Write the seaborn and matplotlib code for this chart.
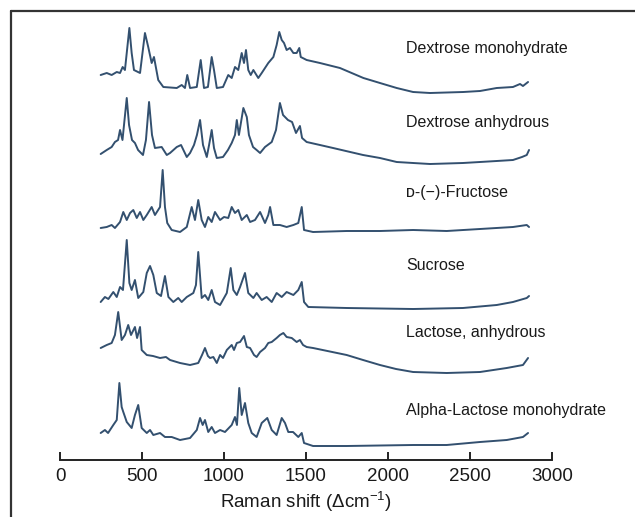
import matplotlib
matplotlib.use("Agg")
import matplotlib.pyplot as plt
import seaborn as sns
import pandas as pd
from matplotlib.lines import Line2D

# ---------------- data ----------------
names = ["Dextrose monohydrate", "Dextrose anhydrous", "ᴅ-(−)-Fructose",
         "Sucrose", "Lactose, anhydrous", "Alpha-Lactose monohydrate"]

dm_x = [248, 285, 315, 346, 366, 382, 396, 423, 437, 451, 488, 518, 538, 559, 573, 599, 630, 712, 742, 762,
        776, 793, 834, 858, 878, 902, 925, 939, 956, 994, 1026, 1047, 1067, 1087, 1108, 1122, 1134, 1148, 1163,
        1179, 1209, 1230, 1270, 1301, 1321, 1337, 1352, 1366, 1382, 1402, 1423, 1443, 1459, 1468, 1504, 1585,
        1707, 1850, 1951, 2053, 2153, 2256, 2459, 2561, 2663, 2762, 2805, 2823, 2854]
dm_y = [18, 20, 18, 21, 20, 26, 23, 65, 40, 23, 20, 60, 46, 30, 36, 13, 6, 5, 8, 5,
        18, 5, 6, 33, 5, 6, 36, 23, 5, 6, 18, 15, 26, 23, 40, 30, 43, 23, 18,
        23, 15, 20, 30, 36, 48, 61, 53, 50, 43, 45, 40, 40, 45, 36, 33, 30,
        25, 15, 10, 5, 1, 0, 1, 2, 5, 6, 9, 7, 11]

da_x = [248, 285, 315, 335, 354, 366, 381, 407, 421, 439, 457, 476, 506, 524, 543, 561, 579, 620, 651, 671,
        712, 738, 773, 793, 817, 835, 854, 872, 895, 909, 925, 939, 956, 994, 1024, 1047, 1067, 1078, 1091,
        1118, 1139, 1152, 1177, 1199, 1220, 1250, 1291, 1317, 1341, 1360, 1372, 1390, 1415, 1439, 1463, 1476,
        1504, 1585, 1665, 1848, 1951, 2053, 2153, 2256, 2457, 2561, 2663, 2762, 2817, 2846, 2860]
da_y = [10, 14, 17, 22, 24, 34, 24, 66, 39, 24, 21, 14, 9, 24, 62, 29, 16, 17, 9, 11,
        17, 19, 7, 11, 19, 29, 44, 19, 7, 19, 34, 16, 6, 7, 14, 21, 29, 44, 29,
        56, 47, 29, 17, 14, 11, 17, 22, 34, 61, 49, 47, 44, 42, 31, 38, 26,
        22, 19, 16, 9, 6, 2, 1, 0, 1, 2, 3, 4, 7, 9, 14]

fr_x = [248, 285, 315, 335, 366, 386, 407, 427, 447, 468, 488, 508, 529, 559, 579, 610, 626, 640, 654, 681,
        732, 773, 803, 823, 843, 864, 884, 904, 925, 945, 976, 1000, 1026, 1047, 1067, 1087, 1108, 1139, 1159,
        1189, 1220, 1250, 1270, 1281, 1301, 1341, 1382, 1423, 1453, 1474, 1488, 1543, 1748, 1951, 2153, 2358,
        2561, 2762, 2846, 2860]
fr_y = [4, 5, 7, 4, 10, 20, 12, 19, 22, 14, 20, 12, 17, 25, 17, 25, 62, 25, 9, 2,
        0, 5, 25, 12, 32, 12, 5, 15, 10, 20, 12, 15, 14, 25, 19, 22, 12, 17, 10,
        12, 20, 9, 17, 25, 7, 7, 5, 7, 9, 25, 2, 0, 1, 1, 2, 1,
        3, 5, 7, 5]

su_x = [248, 274, 295, 325, 346, 366, 384, 407, 423, 437, 457, 477, 508, 529, 549, 569, 590, 616, 640, 661,
        691, 721, 742, 773, 813, 829, 843, 864, 884, 904, 925, 945, 976, 1017, 1041, 1057, 1078, 1098, 1128,
        1148, 1179, 1199, 1230, 1260, 1291, 1321, 1352, 1382, 1423, 1453, 1474, 1488, 1514, 1748, 2153, 2457,
        2663, 2762, 2846, 2860]
su_y = [7, 12, 10, 17, 12, 22, 19, 69, 26, 19, 29, 11, 17, 36, 43, 34, 16, 13, 33, 12,
        7, 11, 7, 12, 16, 24, 57, 11, 14, 9, 19, 7, 4, 16, 41, 19, 14, 22, 36,
        16, 11, 16, 9, 12, 7, 16, 12, 17, 14, 19, 27, 7, 2, 1, 0, 1,
        4, 7, 11, 13]

la_x = [248, 285, 315, 335, 355, 376, 396, 416, 433, 457, 470, 488, 498, 529, 567, 610, 646, 671, 732, 793,
        843, 866, 884, 902, 915, 935, 956, 976, 994, 1017, 1047, 1061, 1078, 1098, 1122, 1139, 1159, 1183,
        1199, 1220, 1250, 1270, 1291, 1321, 1341, 1362, 1382, 1413, 1443, 1463, 1482, 1504, 1543, 1748, 1848,
        1951, 2049, 2153, 2358, 2561, 2724, 2823, 2854]
la_y = [25, 28, 30, 38, 61, 33, 38, 48, 38, 46, 35, 46, 23, 18, 17, 15, 16, 13, 10, 8,
        10, 18, 25, 17, 15, 16, 10, 18, 15, 23, 28, 23, 30, 31, 37, 26, 25, 18,
        16, 21, 25, 30, 31, 35, 38, 40, 36, 35, 31, 33, 28, 26, 25, 18, 13,
        8, 4, 1, 0, 1, 5, 8, 15]

al_x = [248, 274, 293, 325, 346, 362, 376, 386, 407, 437, 457, 477, 498, 529, 549, 569, 610, 640, 681, 732,
        793, 834, 854, 870, 884, 904, 925, 945, 976, 1006, 1047, 1067, 1079, 1093, 1108, 1128, 1148, 1169,
        1199, 1230, 1264, 1291, 1321, 1352, 1372, 1392, 1421, 1453, 1474, 1488, 1543, 1748, 2153, 2358, 2561,
        2724, 2823, 2854]
al_y = [13, 16, 13, 21, 26, 63, 39, 34, 24, 18, 31, 41, 18, 13, 16, 11, 13, 9, 9, 6,
        8, 16, 28, 21, 26, 14, 19, 13, 16, 14, 21, 29, 21, 58, 31, 43, 23, 13,
        9, 23, 28, 16, 11, 28, 23, 14, 14, 9, 13, 3, 0, 0, 1, 1, 4,
        6, 9, 13]

xticks = [0, 500, 1000, 1500, 2000, 2500, 3000]

# ---------------- layout / style ----------------
W, H = 635, 517
offsets = [367, 296, 228, 151, 87, 14]      # vertical stacking of traces
label_y = [412, 337, 267, 195, 128, 50]     # label centres
label_x = 2110
line_color = "#33506f"

sns.set_theme(style="white")
plt.rcParams["font.family"] = ["Liberation Sans", "DejaVu Sans"]
plt.rcParams["mathtext.fontset"] = "custom"
plt.rcParams["mathtext.rm"] = "Liberation Sans"
plt.rcParams["mathtext.it"] = "Liberation Sans"

fig = plt.figure(figsize=(W / 100, H / 100), dpi=100)
fig.patch.set_facecolor("white")
ax = fig.add_axes([60 / W, 57 / H, 492 / W, 450 / H])
ax.set_facecolor("white")

series = [(dm_x, dm_y), (da_x, da_y), (fr_x, fr_y), (su_x, su_y), (la_x, la_y), (al_x, al_y)]
frames = []
for name, (xs, ys), off in zip(names, series, offsets):
    frames.append(pd.DataFrame({"shift": xs, "val": [v + off for v in ys], "name": name}))
df = pd.concat(frames, ignore_index=True)

for name in names:
    sub = df[df["name"] == name]
    sns.lineplot(data=sub, x="shift", y="val", ax=ax, sort=False, estimator=None,
                 color=line_color, linewidth=1.4)

for name, ly in zip(names, label_y):
    ax.text(label_x, ly, name, fontsize=11.5, color="#1a1a1a", va="center", ha="left")

ax.set_xlim(0, 3000)
ax.set_ylim(0, 450)
ax.set_xticks(xticks)
ax.set_xticklabels([str(t) for t in xticks], fontsize=13.5)
ax.set_yticks([])
ax.set_ylabel("")
ax.set_xlabel(r"Raman shift ($\Delta$cm$^{-1}$)", fontsize=13.5, labelpad=3, color="#1a1a1a")
for s in ["left", "right", "top"]:
    ax.spines[s].set_visible(False)
ax.spines["bottom"].set_color("#222222")
ax.spines["bottom"].set_linewidth(1.4)
ax.tick_params(axis="x", direction="in", length=6, width=1.4, color="#222222",
               pad=6, labelcolor="#1a1a1a", bottom=True)

# outer frame (left and top edges visible in the reference)
fig.add_artist(Line2D([10.5 / W, 10.5 / W], [0, 1 - 10.5 / H], transform=fig.transFigure,
                      color="#333333", linewidth=1.6))
fig.add_artist(Line2D([10.5 / W, 1], [1 - 10.5 / H, 1 - 10.5 / H], transform=fig.transFigure,
                      color="#333333", linewidth=1.6))

fig.savefig("out.png", dpi=100, facecolor="white")
